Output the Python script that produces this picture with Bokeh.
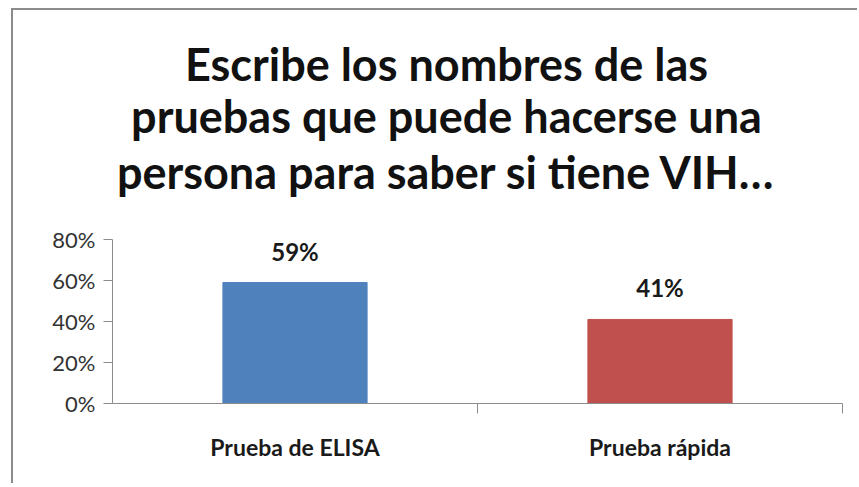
from bokeh.plotting import figure
from bokeh.models import Range1d, FixedTicker, PrintfTickFormatter, Label, ColumnDataSource
from bokeh.core.properties import value
from bokeh.embed import file_html
from bokeh.resources import INLINE

categories = ["Prueba de ELISA", "Prueba rápida"]
percentages = [59, 41]
colors = ["#4F81BD", "#C0504D"]
y_ticks = [0, 20, 40, 60, 80]
title_lines = ["Escribe los nombres de las",
               "pruebas que puede hacerse una",
               "persona para saber si tiene VIH…"]

FONT = "Lato"
x_pos = [i + 0.5 for i in range(len(categories))]
labels = [f"{v}%" for v in percentages]
src = ColumnDataSource(dict(x=x_pos, top=percentages, color=colors, label=labels))

p = figure(width=846, height=475, output_backend="svg", toolbar_location=None,
           x_range=Range1d(0, len(categories)), y_range=Range1d(0, 191.7),
           min_border_left=99, min_border_right=17, min_border_top=0, min_border_bottom=82)
p.styles = {"border-left": "2px solid #8c8c8c", "border-top": "2px solid #8c8c8c",
            "margin-left": "11px", "margin-top": "8px"}
p.outline_line_color = None
p.xgrid.visible = False
p.ygrid.visible = False
p.background_fill_color = "white"
p.border_fill_color = "white"

p.vbar(x="x", top="top", width=0.395, color="color", source=src)
p.text(x="x", y="top", text="label", source=src, text_align="center", text_baseline="bottom",
       y_offset=-17, text_font=value(FONT), text_font_style="bold", text_font_size="24px",
       text_color="#1a1a1a")

ys = [165.8, 140.0, 113.1]
for line, yv in zip(title_lines, ys):
    p.add_layout(Label(x=0.915, y=yv, text=line, text_align="center", text_baseline="middle",
                       text_font=FONT, text_font_style="bold", text_font_size="45px",
                       text_color="#111111"))

ya = p.yaxis[0]
ya.bounds = (0, 80)
ya.ticker = FixedTicker(ticks=y_ticks)
ya.formatter = PrintfTickFormatter(format="%d%%")
ya.axis_line_color = "#8c8c8c"
ya.major_tick_line_color = "#8c8c8c"
ya.major_tick_out = 9
ya.major_tick_in = 0
ya.minor_tick_line_color = None
ya.major_label_text_font = FONT
ya.major_label_text_font_size = "22px"
ya.major_label_text_color = "#333333"
ya.major_label_standoff = 8

xa = p.xaxis[0]
xa.ticker = FixedTicker(ticks=x_pos, minor_ticks=list(range(1, len(categories) + 1)))
xa.major_label_overrides = {x: c for x, c in zip(x_pos, categories)}
xa.axis_line_color = "#8c8c8c"
xa.major_tick_out = 0
xa.major_tick_in = 0
xa.minor_tick_out = 10
xa.minor_tick_in = 0
xa.minor_tick_line_color = "#8c8c8c"
xa.major_label_text_font = FONT
xa.major_label_text_font_style = "bold"
xa.major_label_text_font_size = "23px"
xa.major_label_text_color = "#1a1a1a"
xa.major_label_standoff = 19

open("out.html", "w").write(file_html(p, INLINE))
